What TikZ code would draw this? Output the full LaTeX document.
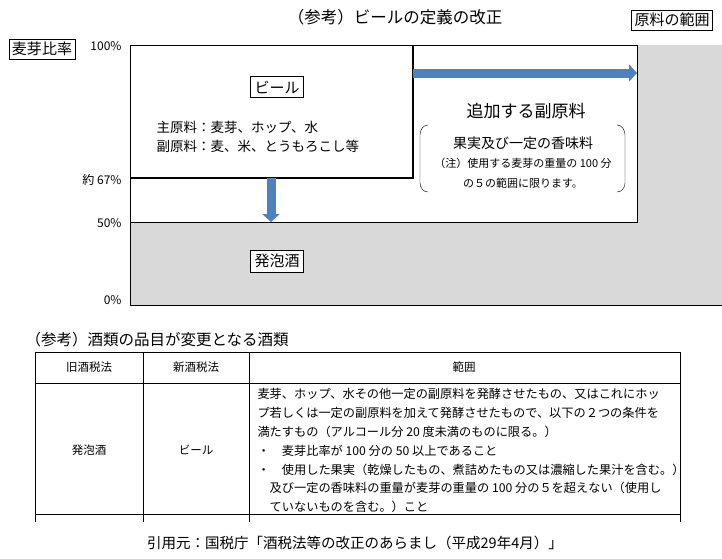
\documentclass[tikz,border=0pt]{standalone}
\usepackage{fontspec}
\setmainfont{Noto Sans CJK JP}
\usetikzlibrary{arrows.meta,positioning,calc}
\definecolor{areagray}{RGB}{217,217,217}
\definecolor{arrowblue}{RGB}{79,129,189}
\tikzset{
  label box/.style={draw,thick,fill=white,inner sep=4pt,font=\fontsize{15}{17}\selectfont},
  pct/.style={anchor=east,font=\fontsize{12}{14}\selectfont},
  cell/.style={font=\fontsize{11.5}{13}\selectfont},
  flow/.style={-{Triangle[length=8pt,width=17pt]},line width=9pt,arrowblue}
}
\begin{document}
\begin{tikzpicture}[x=1pt,y=-1pt]
  \useasboundingbox (0,0) rectangle (722,558);
  % gray area and the white region
  \fill[areagray] (130,45) rectangle (722,305);
  \fill[white] (130,45) rectangle (637,222);
  \draw (130,45) -- (637,45) -- (637,222) -- (130,222) -- cycle;
  \draw (130,222) -- (130,305) -- (722,305);
  \draw[line width=1.2pt] (130,178) -- (413,178) -- (413,45);

  \node[font=\fontsize{16.5}{18}\selectfont] (title) at (395,17) {（参考）ビールの定義の改正};
  \node[label box,inner sep=3pt] (range) at (672,20) {原料の範囲};
  \node[label box,inner sep=3pt] (ratio) at (42,49) {麦芽比率};

  \node[pct] (p100) at (125,46) {100\%};
  \node[pct] (p67) at (125,180) {約 67\%};
  \node[pct] (p50) at (125,223) {50\%};
  \node[pct] (p0) at (125,300) {0\%};

  \node[label box] (beer) at (277,87) {ビール};
  \node[anchor=west,align=left,font=\fontsize{13.5}{19}\selectfont] (mat) at (153,137)
    {主原料：麦芽、ホップ、水\\副原料：麦、米、とうもろこし等};

  \coordinate (rs) at (413,73);
  \coordinate (re) at (637,73);
  \draw[flow] (rs) -- (re);
  \coordinate (ds) at (271,178);
  \coordinate (de) at (271,222);
  \draw[flow] (ds) -- (de);

  \node[font=\fontsize{17}{19}\selectfont] (extra) at (526,111) {追加する副原料};
  \node[font=\fontsize{14}{16}\selectfont] (fruit) at (523,143) {果実及び一定の香味料};
  \node[align=center,font=\fontsize{11}{20}\selectfont] (note) at (523,173)
    {（注）使用する麦芽の重量の 100 分\\の５の範囲に限ります。};
  \draw (428,125) to[out=180,in=90] (420,135) -- (420,183) to[out=-90,in=180] (428,192);
  \draw (617,125) to[out=0,in=90] (625,135) -- (625,183) to[out=-90,in=0] (617,192);

  \node[label box] (happo) at (277,261) {発泡酒};

  % table
  \node[anchor=west,font=\fontsize{15.5}{17}\selectfont] (ttitle) at (22,340) {（参考）酒類の品目が変更となる酒類};
  \draw (35,522) -- (35,352) -- (680,352) -- (680,522);
  \draw (35,383) -- (680,383);
  \draw (35,514) -- (680,514);
  \draw (143,352) -- (143,522);
  \draw (249,352) -- (249,522);
  \node[cell] (h1) at (89,367) {旧酒税法};
  \node[cell] (h2) at (196,367) {新酒税法};
  \node[cell] (h3) at (464,367) {範囲};
  \node[cell] (c1) at (89,450) {発泡酒};
  \node[cell] (c2) at (196,450) {ビール};
  \node[cell,anchor=north west,align=left,font=\fontsize{12.2}{18.8}\selectfont] (c3) at (254,385)
    {麦芽、ホップ、水その他一定の副原料を発酵させたもの、又はこれにホッ\\
     プ若しくは一定の副原料を加えて発酵させたもので、以下の２つの条件を\\
     満たすもの（アルコール分 20 度未満のものに限る。）\\
     ・\quad 麦芽比率が 100 分の 50 以上であること\\
     ・\quad 使用した果実（乾燥したもの、煮詰めたもの又は濃縮した果汁を含む。）\\
     \hspace{1em}及び一定の香味料の重量が麦芽の重量の 100 分の５を超えない（使用し\\
     \hspace{1em}ていないものを含む。）こと};

  \node[font=\fontsize{14.5}{16}\selectfont] (cite) at (355,543) {引用元：国税庁「酒税法等の改正のあらまし（平成29年4月）」};
\end{tikzpicture}
\end{document}
